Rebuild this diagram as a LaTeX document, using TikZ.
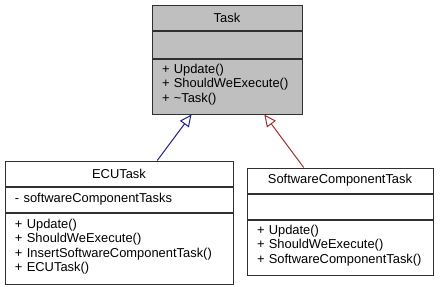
\documentclass[tikz,border=0pt]{standalone}
\usepackage{fontspec}
\setmainfont{Liberation Sans}
\usetikzlibrary{arrows.meta,positioning,calc}
\definecolor{umlInk}{HTML}{303030}
\definecolor{umlGrey}{HTML}{BFBFBF}
\definecolor{umlNavy}{HTML}{1F1F8A}
\definecolor{umlRed}{HTML}{A03030}
\newcommand{\opsend}{\\[-8pt]\mbox{}}
\tikzset{
  cmp/.style={draw=umlInk, fill=white, line width=1pt, inner xsep=10pt, inner ysep=0pt, font=\fontsize{12.9}{14.4}\selectfont, align=left},
  cmpT/.style={cmp, align=center},
  cmpG/.style={cmp, fill=umlGrey},
  inh/.style={line width=1pt, -{Triangle[length=12pt, width=11pt, fill=white]}},
}

\begin{document}
\begin{tikzpicture}[x=1pt,y=-1pt]
  \useasboundingbox (0,0) rectangle (440,287);
  % base class
  \node[cmpT, fill=umlGrey, minimum width=150pt, minimum height=25pt] (taskName) at (227,17.5) {Task};
  \node[cmpG, minimum width=150pt, minimum height=27pt, below=0pt of taskName] (taskAttr) {};
  \node[cmpG, text width=130pt, minimum height=55pt, below=0pt of taskAttr] (taskOps)
    {+ Update()\\+ ShouldWeExecute()\\+ \textasciitilde Task()\opsend};
  % derived classes
  \node[cmpT, minimum width=228pt, minimum height=25pt] (ecuName) at (119,173.5) {ECUTask};
  \node[cmp, text width=208pt, minimum height=25pt, below=0pt of ecuName] (ecuAttr) {- softwareComponentTasks};
  \node[cmp, text width=208pt, minimum height=71pt, below=0pt of ecuAttr] (ecuOps)
    {+ Update()\\+ ShouldWeExecute()\\+ InsertSoftwareComponentTask()\\+ ECUTask()\opsend};
  \node[cmpT, minimum width=186pt, minimum height=25pt] (swcName) at (340,180.5) {SoftwareComponentTask};
  \node[cmp, minimum width=186pt, minimum height=25pt, below=0pt of swcName] (swcAttr) {};
  \node[cmp, text width=166pt, minimum height=55pt, below=0pt of swcAttr] (swcOps)
    {+ Update()\\+ ShouldWeExecute()\\+ SoftwareComponentTask()\opsend};
  % generalisation
  \draw[inh, umlNavy] ($(ecuName.north west)!0.667!(ecuName.north east)$) -- ($(taskOps.south west)!0.265!(taskOps.south east)$);
  \draw[inh, umlRed] ($(swcName.north west)!0.306!(swcName.north east)$) -- ($(taskOps.south west)!0.747!(taskOps.south east)$);
\end{tikzpicture}
\end{document}
